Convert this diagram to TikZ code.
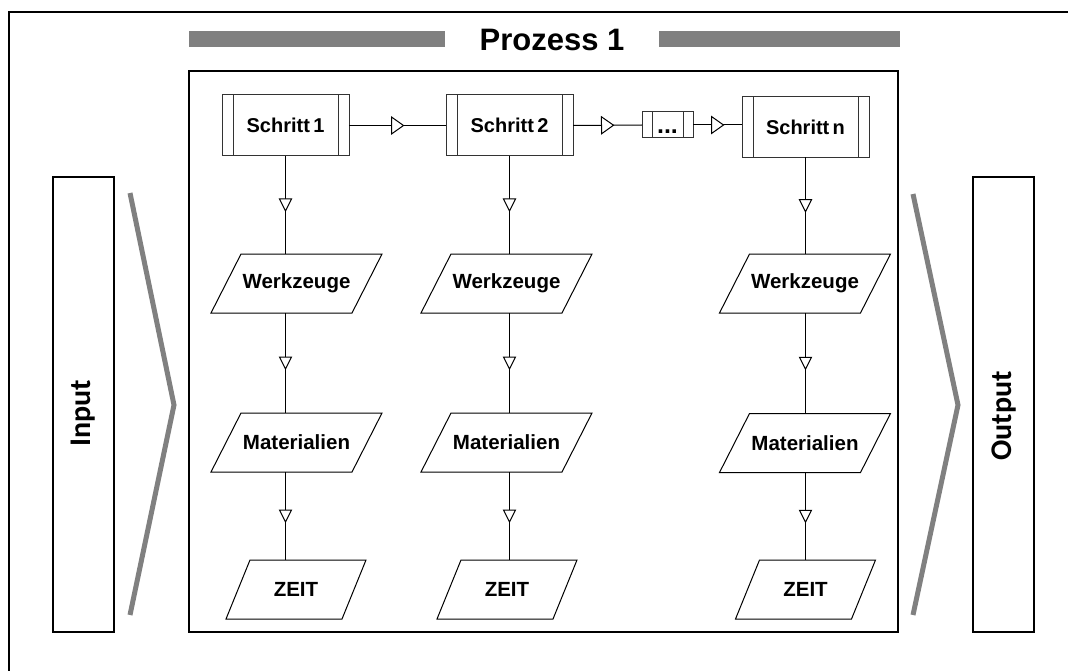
\documentclass[tikz,border=0pt]{standalone}
\usepackage{fontspec}
\setmainfont{Liberation Sans}
\newfontfamily\iofont{Carlito}
\usetikzlibrary{decorations.markings}
\definecolor{bargray}{HTML}{808080}
\begin{document}
\begin{tikzpicture}[x=1pt,y=-1pt,
  every node/.style={inner sep=0pt, outer sep=0pt},
  frameline/.style={line width=2pt, draw=black},
  thin/.style={line width=1pt, draw=black},
  stepbox/.style={draw=black!80, line width=1pt, minimum width=127pt,
    minimum height=61pt, font=\fontsize{20}{24}\selectfont\bfseries},
  dotbox/.style={draw=black!80, line width=1pt, minimum width=51pt,
    minimum height=26pt},
  parabig/.style={minimum width=171pt, minimum height=59pt,
    font=\fontsize{20.5}{24}\selectfont\bfseries},
  parasmall/.style={minimum width=140pt, minimum height=59pt,
    font=\fontsize{20.5}{24}\selectfont\bfseries},
  iobox/.style={draw=black, line width=1.5pt, minimum width=61pt,
    minimum height=455pt},
  iotext/.style={rotate=90, font=\iofont\fontsize{30}{36}\selectfont\bfseries},
  chevron/.style={draw=bargray, line width=5pt},
  hmid/.style={thin, decoration={markings, mark=at position 0.5 with
    {\draw[fill=white, line width=1pt] (-6pt,-8.5pt) -- (6pt,0pt) -- (-6pt,8.5pt) -- cycle;}},
    postaction={decorate}},
  vmid/.style={thin, decoration={markings, mark=at position 0.5 with
    {\draw[fill=white, line width=1pt] (-6pt,-6pt) -- (6pt,0pt) -- (-6pt,6pt) -- cycle;}},
    postaction={decorate}},
]
\useasboundingbox (0,0) rectangle (1068,671);

% outer frame (top and left edges)
\draw[frameline] (9,680) -- (9,12) -- (1080,12);

% title with bars
\fill[bargray] (189,31) rectangle (445,47);
\fill[bargray] (659,31) rectangle (900,47);
\node (title) at (552,40) {\fontsize{31}{36}\selectfont\bfseries Prozess 1};

% process frame
\node[frameline, minimum width=709pt, minimum height=561pt] (proc) at (543.5,351.5) {};

% input / output
\node[iobox] (in) at (83.5,404.5) {};
\node[iotext] (intext) at (83.5,413) {Input};
\node[iobox] (out) at (1003.5,404.5) {};
\node[iotext] (outtext) at (1004,416) {Output};
\draw[chevron] (130,193) -- (174,405) -- (130,615);
\draw[chevron] (913,194) -- (958,405) -- (913,615);

% steps
\node[stepbox] (s1) at (285.5,125.5) {Schritt\,1};
\node[stepbox] (s2) at (509.5,125.5) {Schritt\,2};
\node[stepbox] (sn) at (805.5,127) {Schritt\,n};
\node[dotbox] (dots) at (667.5,125) {};
\node[anchor=base, font=\fontsize{25}{30}\selectfont\bfseries] (dotstext)
  at (667.5,134) {...};
\foreach \n/\d in {s1/11, s2/11, sn/11, dots/10}
  \draw[draw=black!80, line width=1pt]
    ([xshift=\d pt]\n.north west) -- ([xshift=\d pt]\n.south west)
    ([xshift=-\d pt]\n.north east) -- ([xshift=-\d pt]\n.south east);

% resources per step
\node[parabig] (w1) at (296.5,283.5) {Werkzeuge};
\node[parabig] (w2) at (506.5,283.5) {Werkzeuge};
\node[parabig] (w3) at (805,283.5) {Werkzeuge};
\node[parabig] (m1) at (296.5,442.5) {Materialien};
\node[parabig] (m2) at (506.5,442.5) {Materialien};
\node[parabig] (m3) at (805,443) {Materialien};
\node[parasmall] (z1) at (296,589.5) {ZEIT};
\node[parasmall] (z2) at (507,589.5) {ZEIT};
\node[parasmall] (z3) at (805.5,589.5) {ZEIT};
\foreach \n/\s in {w1/30, w2/30, w3/30, m1/30, m2/30, m3/30, z1/24, z2/24, z3/24}
  \draw[thin] (\n.south west) -- ([xshift=-\s pt]\n.south east)
    -- (\n.north east) -- ([xshift=\s pt]\n.north west) -- cycle;

% flow between steps
\draw[hmid] (s1.east) -- (s2.west);
\draw[hmid] (s2.east) -- (dots.west);
\draw[hmid] (dots.east) -- (dots.east -| sn.west);

% flow down each column
\foreach \s/\w/\m/\z in {s1/w1/m1/z1, s2/w2/m2/z2, sn/w3/m3/z3} {
  \draw[vmid] (\s.south) -- (\s.south |- \w.north);
  \draw[vmid] (\s.south |- \w.south) -- (\s.south |- \m.north);
  \draw[vmid] (\s.south |- \m.south) -- (\s.south |- \z.north);
}
\end{tikzpicture}
\end{document}
